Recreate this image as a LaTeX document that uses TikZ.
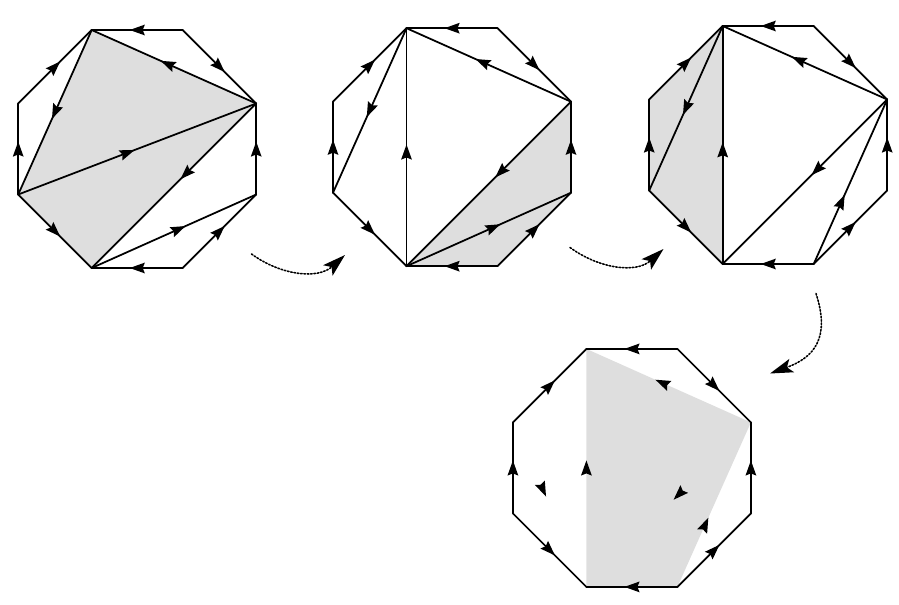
\documentclass[tikz,border=0pt]{standalone}
\usepackage{tikz}
\usetikzlibrary{arrows.meta,decorations.markings}
\definecolor{shd}{gray}{0.87}
\newcommand\octpts[3]{
\coordinate (#1A) at ({#2-0.91},{#3+2.38});
\coordinate (#1B) at ({#2+0.91},{#3+2.38});
\coordinate (#1C) at ({#2+2.38},{#3+0.91});
\coordinate (#1D) at ({#2+2.38},{#3-0.91});
\coordinate (#1E) at ({#2+0.91},{#3-2.38});
\coordinate (#1F) at ({#2-0.91},{#3-2.38});
\coordinate (#1G) at ({#2-2.38},{#3-0.91});
\coordinate (#1H) at ({#2-2.38},{#3+0.91});}
\newcommand\octedges[1]{
\draw[midarr] (#1B) -- (#1A);
\draw[midarr] (#1B) -- (#1C);
\draw[midarr] (#1D) -- (#1C);
\draw[midarr] (#1E) -- (#1D);
\draw[midarr] (#1E) -- (#1F);
\draw[midarr] (#1G) -- (#1F);
\draw[midarr] (#1G) -- (#1H);
\draw[midarr] (#1H) -- (#1A);}
\tikzset{
midarr/.style={postaction={decorate},decoration={markings,mark=at position #1 with {\pgftransformxshift{1.5mm}\arrow{Stealth[length=3mm,width=2.1mm,inset=0.4mm]}}}},
midarr/.default=0.5,
flow/.style={densely dotted,line width=0.9pt,-{Stealth[length=4.6mm,width=2.8mm,inset=1mm]}}
}

\begin{document}
\begin{tikzpicture}[line width=1pt,line cap=round]
\useasboundingbox (0,0) rectangle (17.98,12.08);
\octpts{p}{2.744}{9.10}
\octpts{q}{9.04}{9.136}
\octpts{r}{15.364}{9.18}
\octpts{s}{12.638}{2.722}
% first triangulation
\fill[shd] (pA) -- (pC) -- (pF) -- (pG) -- cycle;
\octedges{p}
\draw[midarr=0.54] (pC) -- (pA);
\draw[midarr] (pA) -- (pG);
\draw[midarr=0.46] (pG) -- (pC);
\draw[midarr=0.43] (pC) -- (pF);
\draw[midarr=0.53] (pF) -- (pD);
% second
\fill[shd] (qC) -- (qD) -- (qE) -- (qF) -- cycle;
\octedges{q}
\draw[midarr=0.54] (qC) -- (qA);
\draw[midarr] (qA) -- (qG);
\draw[midarr=0.48] (qF) -- (qA);
\draw[midarr=0.43] (qC) -- (qF);
\draw[midarr=0.53] (qF) -- (qD);
% third
\fill[shd] (rA) -- (rH) -- (rG) -- (rF) -- cycle;
\octedges{r}
\draw[midarr=0.54] (rC) -- (rA);
\draw[midarr] (rA) -- (rG);
\draw[midarr=0.48] (rF) -- (rA);
\draw[midarr=0.43] (rC) -- (rF);
\draw[midarr=0.38] (rE) -- (rC);
% fourth, arrows only
\fill[shd] (sA) -- (sC) -- (sE) -- (sF) -- cycle;
\octedges{s}
\path[midarr=0.54] (sC) -- (sA);
\path[midarr] (sF) -- (sA);
\path[midarr=0.41] (sH) -- (sF);
\path[midarr=0.44] (sC) -- (sF);
\path[midarr=0.38] (sE) -- (sC);
% moves
\coordinate (f1s) at (5.03,7.00);
\coordinate (f1e) at (6.90,6.98);
\coordinate (f2s) at (11.40,7.13);
\coordinate (f2e) at (13.27,7.10);
\coordinate (f3s) at (16.32,6.21);
\coordinate (f3e) at (15.40,4.61);
\draw[flow] (f1s) to[out=-36,in=-138] (f1e);
\draw[flow] (f2s) to[out=-36,in=-138] (f2e);
\draw[flow] (f3s) to[out=-72,in=20,looseness=1.3] (f3e);
\end{tikzpicture}
\end{document}
